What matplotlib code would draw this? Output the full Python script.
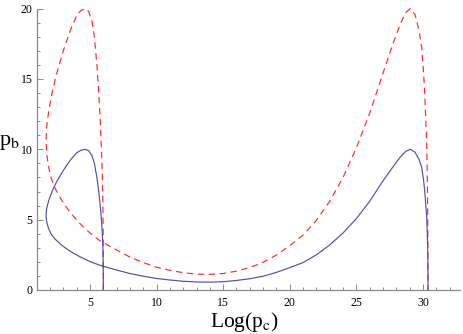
import numpy as np
import matplotlib as mpl
mpl.use('Agg')
from matplotlib import pyplot as plt
from matplotlib.ticker import MultipleLocator


# points along the curve (same x for both curves)
log_pc = [6.00, 6.00, 5.99, 5.97, 5.93, 5.86, 5.77, 5.66, 5.52, 5.33,
          5.15, 4.90, 4.63, 4.30, 4.00, 3.50, 3.00, 2.50, 2.15, 1.90,
          1.75, 1.70, 1.76, 1.90, 2.10, 2.40, 2.80, 3.25, 3.75, 4.25,
          5.00, 5.75, 6.50, 7.00, 8.00, 9.00, 10.0, 11.0, 12.0, 13.0,
          14.0, 15.0, 16.0, 17.0, 18.0, 19.0, 20.0, 21.0, 22.0, 23.0,
          24.0, 25.0, 26.0, 27.0, 27.75, 28.3, 28.7, 29.05, 29.4, 29.7,
          29.9, 30.05, 30.13, 30.22, 30.28, 30.33, 30.36, 30.38, 30.38]

pb_solid = [0.0, 1.0, 2.0, 3.0, 4.0, 5.0, 6.0, 7.0, 8.0, 9.0,
            9.55, 9.9, 10.0, 9.92, 9.75, 9.2, 8.5, 7.7, 7.0, 6.35,
            5.8, 5.3, 4.8, 4.35, 3.95, 3.6, 3.25, 2.92, 2.62, 2.36,
            2.02, 1.76, 1.55, 1.42, 1.17, 0.98, 0.82, 0.71, 0.62, 0.57,
            0.56, 0.59, 0.68, 0.80, 0.98, 1.25, 1.59, 1.95, 2.5, 3.2,
            4.05, 5.07, 6.3, 7.75, 8.75, 9.45, 9.85, 10.0, 9.8, 9.3,
            8.76, 7.8, 7.1, 6.0, 5.2, 4.0, 2.8, 1.2, 0.0]

pb_dashed = [0.0, 2.0, 4.0, 6.0, 8.0, 10.0, 12.0, 14.0, 16.0, 18.0,
             19.1, 19.8, 20.0, 19.85, 19.5, 18.4, 17.0, 15.4, 14.0, 12.7,
             11.6, 10.6, 9.6, 8.7, 7.9, 7.2, 6.5, 5.85, 5.25, 4.72,
             4.05, 3.5, 3.1, 2.84, 2.34, 1.95, 1.62, 1.4, 1.23, 1.13,
             1.11, 1.17, 1.34, 1.6, 1.97, 2.48, 3.15, 3.9, 4.95, 6.3,
             8.0, 10.1, 12.55, 15.4, 17.5, 18.9, 19.7, 20.0, 19.6, 18.5,
             17.3, 15.4, 14.1, 12.0, 10.4, 8.0, 5.6, 2.4, 0.0]

plt.rcParams['font.family'] = ['Liberation Serif', 'DejaVu Serif']
plt.rcParams['mathtext.fontset'] = 'stix'

fig = plt.figure(figsize=(4.63, 3.34), dpi=100)
ax = fig.add_axes([36.7/463, 44/334, 423.5/463, 281.4/334])

ax.plot(log_pc, pb_dashed, color='#ff2a2a', lw=0.85,
        dashes=(5.5, 3.8), clip_on=False)
ax.plot(log_pc, pb_solid, color='#5050a8', lw=0.85, clip_on=False)

ax.set_xlim(1.0, 32.8)
ax.set_ylim(0, 20)

for s in ['top', 'right']:
    ax.spines[s].set_visible(False)
for s in ['left', 'bottom']:
    ax.spines[s].set_color('#8a8a8a')
    ax.spines[s].set_linewidth(0.9)

ax.xaxis.set_major_locator(MultipleLocator(5))
ax.xaxis.set_minor_locator(MultipleLocator(1))
ax.yaxis.set_major_locator(MultipleLocator(5))
ax.yaxis.set_minor_locator(MultipleLocator(1))
ax.tick_params(which='both', direction='in', color='#8a8a8a', width=0.7,
               labelsize=8.5)
ax.tick_params(which='major', length=4)
ax.tick_params(which='minor', length=2.5)
ax.tick_params(axis='x', pad=5)
ax.tick_params(axis='y', pad=3)

fig.text(244/463, 1 - 322/334, r'Log(p$_{\mathrm{c}}$)', fontsize=15.5,
         ha='center', va='center')
fig.text(9/463, 1 - 143/334, r'p$_{\mathrm{b}}$', fontsize=16,
         ha='center', va='center')

fig.savefig('out.png', dpi=100, facecolor='white')
